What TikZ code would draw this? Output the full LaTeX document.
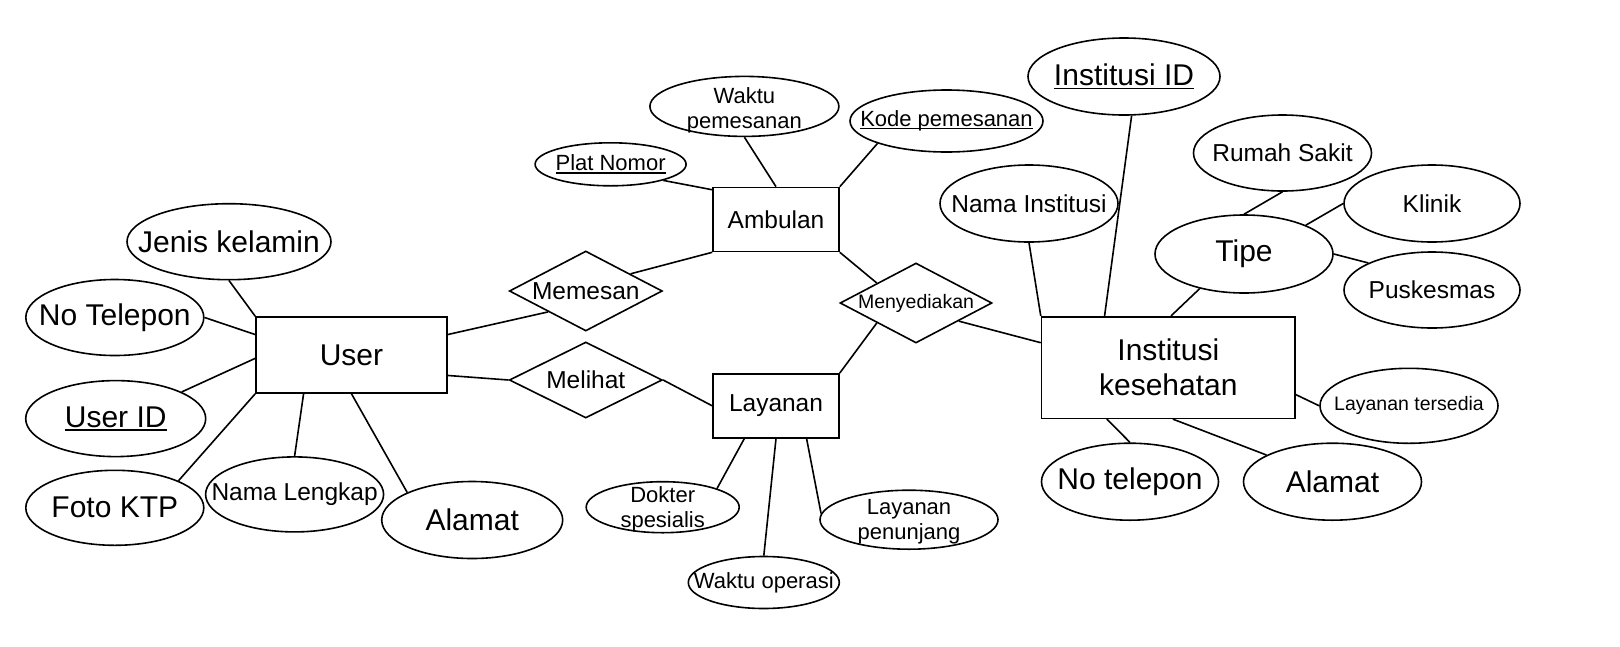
\documentclass[tikz,border=0pt]{standalone}
\usepackage{fontspec}
\setmainfont{Liberation Sans}
\usetikzlibrary{shapes.geometric}
\newcommand\pkey[1]{\setbox0\hbox{#1}\rlap{\vrule width\wd0 height -0.07em depth 0.12em}\box0}
\tikzset{
  ent/.style={draw, rectangle, inner sep=0pt},
  att/.style={draw, ellipse, inner sep=0pt},
  rel/.style={draw, diamond, aspect=1.9, inner sep=0pt},
  big/.style={font=\fontsize{30}{35}\selectfont, align=center},
  mid/.style={font=\fontsize{24.5}{28}\selectfont, align=center},
  sml/.style={font=\fontsize{22}{25}\selectfont, align=center},
  tny/.style={font=\fontsize{19.5}{22}\selectfont, align=center}
}
\begin{document}
\begin{tikzpicture}[x=1pt, y=-1pt, line width=1.6pt]
\fill[white] (0,0) rectangle (1620,646);
\useasboundingbox (0,0) rectangle (1620,646);
\node[ent, minimum width=191pt, minimum height=76pt, label={[big]center:User}] (user) at (351.5,355) {};
\node[ent, minimum width=126pt, minimum height=64pt, label={[mid]center:Ambulan}] (ambulan) at (776,219.5) {};
\node[ent, minimum width=126pt, minimum height=64pt, label={[mid]center:Layanan}] (layanan) at (776,405.8) {};
\node[ent, minimum width=253.5pt, minimum height=101.6pt, label={[big]center:Institusi\\kesehatan}] (inst) at (1168.3,367.5) {};
\node[rel, minimum width=153pt, minimum height=80pt, label={[mid]center:Memesan}] (memesan) at (585.8,291) {};
\node[rel, minimum width=153pt, minimum height=76pt, label={[mid]center:Melihat}] (melihat) at (585.8,380) {};
\node[rel, minimum width=152pt, minimum height=80pt, label={[tny]center:Menyediakan}] (menyed) at (916,303) {};
\node[att, minimum width=204pt, minimum height=76pt, label={[big]center:Jenis kelamin}] (jk) at (229,241.7) {};
\node[att, minimum width=178pt, minimum height=76pt, label={[big]center:No Telepon}] (ntel) at (114.8,317.5) {};
\node[att, minimum width=180pt, minimum height=76pt, label={[big]center:\pkey{User ID}}] (uid) at (115.7,418.6) {};
\node[att, minimum width=178pt, minimum height=75pt, label={[big]center:Foto KTP}] (fktp) at (114.8,507.8) {};
\node[att, minimum width=178pt, minimum height=75pt, label={[mid]center:Nama Lengkap}] (nlengkap) at (294.6,494.4) {};
\node[att, minimum width=181pt, minimum height=77pt, label={[big]center:Alamat}] (alamat1) at (472.2,520) {};
\node[att, minimum width=151pt, minimum height=43pt, label={[sml]center:\pkey{Plat Nomor}}] (plat) at (610.6,164.3) {};
\node[att, minimum width=189pt, minimum height=60pt, label={[sml, yshift=-4pt]center:Waktu\\pemesanan}] (waktup) at (744.4,106.4) {};
\node[att, minimum width=193pt, minimum height=62pt, label={[sml]center:\pkey{Kode pemesanan}}] (kode) at (946.5,121) {};
\node[att, minimum width=153pt, minimum height=51pt, label={[sml, yshift=-2pt]center:Dokter\\spesialis}] (dokter) at (662.7,507.2) {};
\node[att, minimum width=151pt, minimum height=52pt, label={[sml]center:Waktu operasi}] (woper) at (763.8,582.5) {};
\node[att, minimum width=178pt, minimum height=59pt, label={[sml, yshift=-2pt]center:Layanan\\penunjang}] (lpenunj) at (909,519.7) {};
\node[att, minimum width=192pt, minimum height=77pt, label={[big]center:\pkey{Institusi ID}}] (instid) at (1124,76.5) {};
\node[att, minimum width=178pt, minimum height=77pt, label={[mid]center:Nama Institusi}] (namainst) at (1029,203.5) {};
\node[att, minimum width=178pt, minimum height=76pt, label={[mid]center:Rumah Sakit}] (rs) at (1282.5,153) {};
\node[att, minimum width=176pt, minimum height=77pt, label={[mid]center:Klinik}] (klinik) at (1432,203.5) {};
\node[att, minimum width=178pt, minimum height=78pt, label={[big]center:Tipe}] (tipe) at (1244,254) {};
\node[att, minimum width=176pt, minimum height=76pt, label={[mid]center:Puskesmas}] (pusk) at (1432,290) {};
\node[att, minimum width=178pt, minimum height=75pt, label={[tny]center:Layanan tersedia}] (ltersedia) at (1409,405.8) {};
\node[att, minimum width=177pt, minimum height=77pt, label={[big]center:No telepon}] (notel) at (1130,481.7) {};
\node[att, minimum width=178pt, minimum height=77pt, label={[big]center:Alamat}] (alamat2) at (1332.5,481.7) {};
\draw (jk.south) -- (user.north west);
\draw (ntel.east) -- (user.168);
\draw (uid.22) -- (user.182);
\draw (fktp.23) -- (user.south west);
\draw (nlengkap.north) -- (user.219);
\draw (alamat1.157) -- (user.south);
\draw (user.12) -- (memesan.209);
\draw (user.348) -- (melihat.west);
\draw (memesan.21) -- (ambulan.south west);
\draw (melihat.east) -- (layanan.west);
\draw (plat.-17) -- (ambulan.155);
\draw (waktup.south) -- (ambulan.north);
\draw (kode.198) -- (ambulan.north east);
\draw (ambulan.south east) -- (menyed.153);
\draw (menyed.207) -- (layanan.north east);
\draw (menyed.-23) -- (inst.169);
\draw (layanan.226) -- (dokter.19);
\draw (layanan.south) -- (woper.north);
\draw (layanan.-47) -- (lpenunj.176);
\draw (namainst.south) -- (inst.north west);
\draw (instid.281) -- (inst.141);
\draw (tipe.218) -- (inst.87);
\draw (tipe.north) -- (rs.south);
\draw (tipe.25) -- (klinik.west);
\draw (tipe.east) -- (pusk.157);
\draw (inst.348) -- (ltersedia.west);
\draw (inst.220) -- (notel.north);
\draw (inst.275) -- (alamat2.158);
\end{tikzpicture}
\end{document}
